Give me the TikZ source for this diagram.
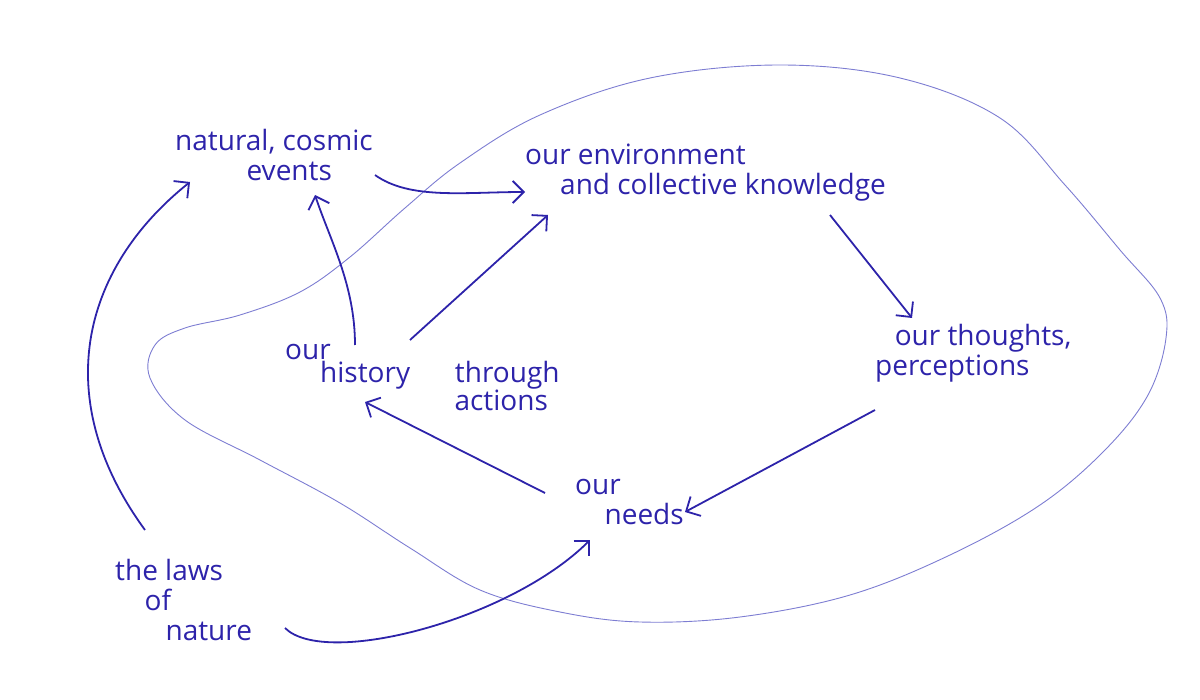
\documentclass[tikz,border=0pt]{standalone}
\usepackage{fontspec}
\setmainfont{Open Sans}
\usetikzlibrary{arrows.meta}
\definecolor{ink}{RGB}{45,35,170}
\definecolor{pencil}{RGB}{125,125,210}

\begin{document}
\begin{tikzpicture}[x=1pt,y=-1pt,
  lbl/.style={text=ink,font=\fontsize{28}{30}\selectfont,inner sep=0pt,
    align=left,anchor=north west,execute at begin node={\strut}},
  link/.style={draw=ink,line width=1.8pt,
    -{Straight Barb[length=11pt,width=22pt,line width=1.8pt]}}]
\useasboundingbox (0,0) rectangle (1200,700);
% the loop round us:
\draw[pencil,line width=0.9pt] plot[smooth cycle,tension=0.6] coordinates {
  (780,65) (900,78) (1000,118) (1065,185) (1120,250) (1160,298) (1166,338)
  (1148,395) (1105,450) (1040,505) (950,555) (850,595) (740,617) (640,622)
  (560,612) (480,590) (410,548) (340,503) (260,460) (185,420) (150,378)
  (155,345) (185,328) (240,315) (300,292) (350,257) (405,208) (460,163)
  (540,115) (650,78)};
% labels:
\node[lbl] (natural) at (175,129) {natural, cosmic\\\hspace*{2.55em}events};
\node[lbl] (env) at (525,144) {our environment\\\hspace*{1.25em}and collective knowledge};
\node[lbl] (thoughts) at (875,324) {\hspace*{0.7em}our thoughts,\\perceptions};
\node[lbl,font=\fontsize{28}{23}\selectfont] (history) at (285,344)
  {our\\\hspace*{1.25em}history\hspace{1.6em}through\\\hspace*{6.05em}actions};
\node[lbl] (needs) at (575,479) {our\\\hspace*{1.05em}needs};
\node[lbl] (laws) at (115,559) {the laws\\\hspace*{1.05em}of\\\hspace*{1.8em}nature};
% arrows:
\draw[link] ([shift={(30,-29)}]laws.north west)
  .. controls +(-95,-130) and +(-110,88) .. ([shift={(15,53)}]natural.north west);
\draw[link] ([shift={(200,46)}]natural.north west)
  .. controls +(35,25) and +(-60,0) .. ([shift={(0,48)}]env.north west);
\draw[link] ([shift={(70,1)}]history.north west)
  .. controls +(0,-60) and +(15,45) .. ([shift={(140,66)}]natural.north west);
\draw[link] ([shift={(125,-4)}]history.north west) -- ([shift={(23,71)}]env.north west);
\draw[link] ([shift={(305,71)}]env.north west) -- ([shift={(37,-6)}]thoughts.north west);
\draw[link] ([shift={(0,86)}]thoughts.north west) -- ([shift={(110,33)}]needs.north west);
\draw[link] ([shift={(-30,14)}]needs.north west) -- ([shift={(80,58)}]history.north west);
\draw[link] ([shift={(170,69)}]laws.north west)
  .. controls +(40,40) and +(-80,80) .. ([shift={(15,61)}]needs.north west);
\end{tikzpicture}
\end{document}
